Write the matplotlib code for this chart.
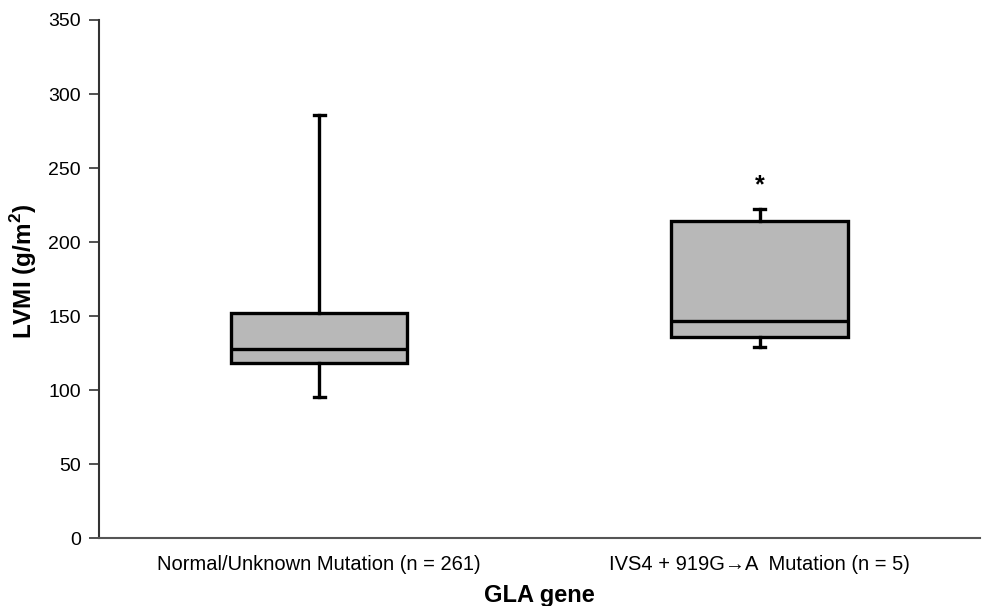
import matplotlib
matplotlib.use("Agg")
import matplotlib.pyplot as plt

plt.rcParams["font.family"] = ["Liberation Sans", "DejaVu Sans"]

# Box statistics (LVMI, g/m^2)
groups = ["Normal/Unknown Mutation (n = 261)", "IVS4 + 919G\u2192A  Mutation (n = 5)"]
whisker_low = [95, 129]
q1 = [118, 136]
median = [128, 147]
q3 = [152, 214]
whisker_high = [286, 222]
star_y = 238

stats = [
    {"whislo": whisker_low[i], "q1": q1[i], "med": median[i], "q3": q3[i],
     "whishi": whisker_high[i], "label": groups[i]}
    for i in range(len(groups))
]

fig = plt.figure(figsize=(9.84, 6.06), dpi=100)
ax = fig.add_axes([0.1006, 0.112, 0.895, 0.855])

lw = 2.4
ax.bxp(
    stats,
    positions=[1, 2],
    widths=0.4,
    showfliers=False,
    patch_artist=True,
    boxprops=dict(facecolor="#b8b8b8", edgecolor="black", linewidth=lw),
    medianprops=dict(color="black", linewidth=lw),
    whiskerprops=dict(color="black", linewidth=lw),
    capprops=dict(color="black", linewidth=lw),
    capwidths=0.025,
)

ax.text(2, star_y, "*", ha="center", va="center", fontsize=18, fontweight="bold")

ax.set_xlim(0.5, 2.5)
ax.set_ylim(0, 350)
ax.set_yticks(range(0, 351, 50))
ax.tick_params(axis="y", labelsize=14, length=7, width=1.2, color="#333333", pad=6)
ax.tick_params(axis="x", labelsize=14.5, length=0, pad=12)
for side in ["top", "right"]:
    ax.spines[side].set_visible(False)
ax.spines["left"].set_color("#333333")
ax.spines["bottom"].set_color("#555555")
ax.spines["left"].set_linewidth(1.5)
ax.spines["bottom"].set_linewidth(1.5)

ax.set_ylabel("LVMI (g/m$^\\mathregular{2}$)", fontsize=17.5, fontweight="bold")
ax.yaxis.set_label_coords(-0.068, 0.515)
ax.set_xlabel("GLA gene", fontsize=17, fontweight="bold", labelpad=7)

fig.savefig("out.png", dpi=100)
